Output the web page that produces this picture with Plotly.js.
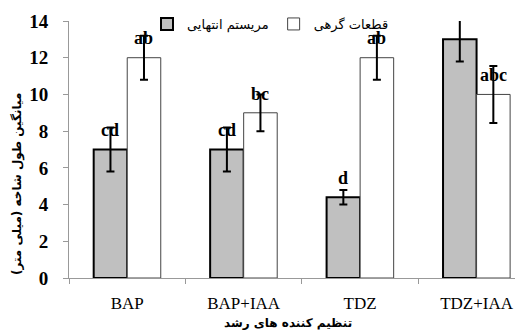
<!DOCTYPE html>
<html>
<head>
<meta charset="utf-8">
<script src="https://cdn.plot.ly/plotly-3.0.1.min.js"></script>
<style>html,body{margin:0;padding:0;overflow:hidden;background:#fff;}</style>
</head>
<body>
<div id="chart" style="width:515px;height:336px;"></div>
<script>
var categories = ['BAP', 'BAP+IAA', 'TDZ', 'TDZ+IAA'];
var seriesNames = ['مریستم انتهایی', 'قطعات گرهی'];
var meristemValues = [7, 7, 4.4, 13];
var meristemErrors = [1.2, 1.2, 0.4, 1.2];
var meristemLetters = ['cd', 'cd', 'd', 'a'];
var nodeValues = [12, 9, 12, 10];
var nodeErrors = [1.2, 1.0, 1.2, 1.55];
var nodeLetters = ['ab', 'bc', 'ab', 'abc'];
var yTickValues = [0, 2, 4, 6, 8, 10, 12, 14];
var yAxisTitle = 'میانگین طول شاخه (میلی متر)';
var xAxisTitle = 'تنظیم کننده های رشد';

var bargap = 0.424;
var barW = (1 - bargap) / 2;
var serif = 'Liberation Serif';
var persian = 'DejaVu Sans';

var L = 69, T = 21, B = 58, W = 515, H = 336;
function px2x(px) { return (px - L) / (W - L); }
function px2y(py) { return (H - B - py) / (H - T - B); }

var traces = [
  {
    type: 'bar', name: seriesNames[0], x: categories, y: meristemValues,
    marker: {color: '#c0c0c0', line: {color: '#000', width: 2}},
    error_y: {type: 'data', array: meristemErrors, visible: true, color: '#000', thickness: 2, width: 4}
  },
  {
    type: 'bar', name: seriesNames[1], x: categories, y: nodeValues,
    marker: {color: '#fff', line: {color: '#444', width: 1}},
    error_y: {type: 'data', array: nodeErrors, visible: true, color: '#000', thickness: 2, width: 4}
  }
];

var annotations = [];
function addLetters(vals, letters, shift) {
  for (var i = 0; i < vals.length; i++) {
    annotations.push({
      x: i + shift, y: vals[i] + 1.05, xref: 'x', yref: 'y',
      text: '<b>' + letters[i] + '</b>', showarrow: false, xanchor: 'center', yanchor: 'middle',
      font: {family: serif, size: 18, color: '#000'}
    });
  }
}
addLetters(meristemValues, meristemLetters, -barW / 2);
addLetters(nodeValues, nodeLetters, barW / 2);
annotations.push({
  x: px2x(288), y: px2y(323), xref: 'paper', yref: 'paper', text: '<b>' + xAxisTitle + '</b>', showarrow: false,
  xanchor: 'center', yanchor: 'middle',
  font: {family: persian, size: 12, color: '#000'}
});
annotations.push({
  x: px2x(17), y: px2y(184), xref: 'paper', yref: 'paper', text: '<b>' + yAxisTitle + '</b>', showarrow: false,
  xanchor: 'center', yanchor: 'middle', textangle: -90,
  font: {family: persian, size: 12, color: '#000'}
});

var layout = {
  width: W, height: H,
  font: {family: serif},
  margin: {l: L, r: 0, t: T, b: B, pad: 0},
  paper_bgcolor: '#fff', plot_bgcolor: '#fff',
  barmode: 'group', bargap: bargap, bargroupgap: 0,
  showlegend: true,
  legend: {
    orientation: 'h', x: px2x(147), xanchor: 'left', y: px2y(24), yanchor: 'middle',
    bgcolor: 'rgba(0,0,0,0)', font: {family: persian, size: 13, color: '#000'},
    itemwidth: 30, traceorder: 'normal'
  },
  xaxis: {
    type: 'category', range: [-0.5, 3.33], tickson: 'boundaries',
    ticks: 'outside', ticklen: 5, tickcolor: '#999', tickwidth: 1,
    showline: true, linecolor: '#999', linewidth: 1, showgrid: false, zeroline: false,
    tickfont: {family: serif, size: 17, color: '#000'}, ticklabelstandoff: 10
  },
  yaxis: {
    range: [0, 14], tickvals: yTickValues, ticks: 'outside', ticklen: 5, tickcolor: '#999',
    showline: true, linecolor: '#999', linewidth: 1, showgrid: false, zeroline: false,
    tickfont: {family: serif, size: 19, color: '#000', weight: 'bold'}, ticklabelstandoff: 11
  },
  annotations: annotations
};

Plotly.newPlot('chart', traces, layout, {displayModeBar: false, staticPlot: true});
</script>
</body>
</html>
